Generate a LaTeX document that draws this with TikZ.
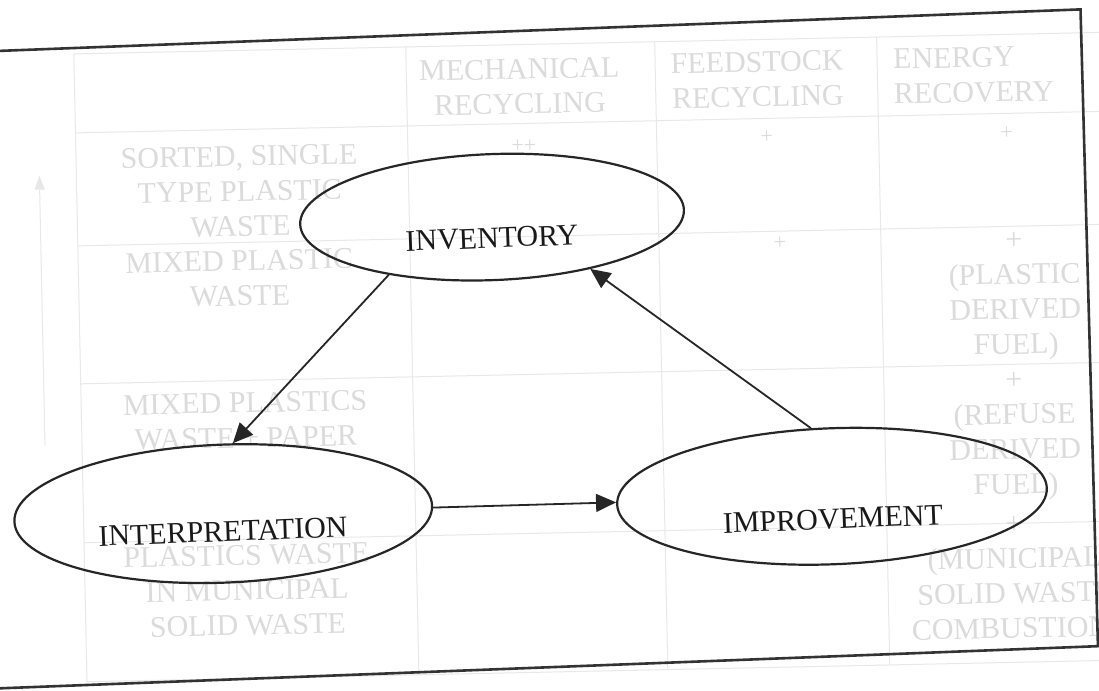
\documentclass[tikz,border=0pt]{standalone}
\usepackage{fontspec}
\setmainfont{Liberation Serif}
\usetikzlibrary{shapes.geometric,arrows.meta}

\begin{document}
\begin{tikzpicture}[x=1pt,y=-1pt,
  oval/.style={ellipse, draw=black!85, line width=2.2pt, inner sep=0pt},
  ovaltext/.style={font=\fontsize{30}{36}\selectfont, text=black!90, inner sep=0pt},
  flow/.style={line width=1.8pt, draw=black!85, -{Triangle[length=20pt,width=18pt]}},
  frameline/.style={line width=2.6pt, draw=black!80},
  ghostrule/.style={line width=1pt, draw=black!9},
  ghosttext/.style={font=\fontsize{30}{35}\selectfont, text=black!14, align=center, inner sep=0pt},
  ghostmark/.style={font=\fontsize{22}{26}\selectfont, text=black!14, inner sep=0pt},
]
\useasboundingbox (0,0) rectangle (1099,690);
\fill[white] (0,0) rectangle (1099,690);
\clip (0,0) rectangle (1099,690);

% faded table printed underneath the cycle
\begin{scope}[rotate around={1.2:(549.5,345)}, transform shape]
  \foreach \yy in {44,123,236,374,533,672}
    \draw[ghostrule] (80,\yy) -- (1160,\yy);
  \foreach \xx in {80,412,661,883}
    \draw[ghostrule] (\xx,44) -- (\xx,672);
  \coordinate (axisfoot) at (43,435);
  \coordinate (axishead) at (43,165);
  \draw[ghostrule, -{Triangle[length=14pt,width=10pt]}] (axisfoot) -- (axishead);

  \node[ghosttext] (hmech) at (525,86) {MECHANICAL\\RECYCLING};
  \node[ghosttext] (hfeed) at (763,84) {FEEDSTOCK\\RECYCLING};
  \node[ghosttext, align=left, anchor=west] (henergy) at (899,84) {ENERGY\\RECOVERY};

  \node[ghosttext] (rsorted) at (243,185) {SORTED, SINGLE\\TYPE PLASTIC\\WASTE};
  \node[ghosttext] (rmixed) at (241,272) {MIXED PLASTIC\\WASTE};
  \node[ghosttext] (rpaper) at (244,414) {MIXED PLASTICS\\WASTE + PAPER};
  \node[ghosttext] (rmsw) at (242,584) {PLASTICS WASTE\\IN MUNICIPAL\\SOLID WASTE};

  \node[ghosttext] (epdf) at (1016,306) {+\\(PLASTIC\\DERIVED\\FUEL)};
  \node[ghosttext] (erdf) at (1013,446) {+\\(REFUSE\\DERIVED\\FUEL)};
  \node[ghosttext] (emsw) at (1010,590) {+\\(MUNICIPAL\\SOLID WASTE\\COMBUSTION)};

  \node[ghostmark] (m11) at (528,146) {++};
  \node[ghostmark] (m12) at (771,142) {+};
  \node[ghostmark] (m13) at (1011,143) {+};
  \node[ghostmark] (m22) at (782,248) {+};
\end{scope}

% the assessment cycle
\begin{scope}[rotate around={2.2:(549.5,345)}, transform shape]
  \draw[frameline] (-80,30) -- (1093,30) -- (1086,667) -- (-80,667);

  \node[oval, minimum width=384pt, minimum height=126pt] (inv) at (497,215) {};
  \node[oval, minimum width=418pt, minimum height=138pt] (interp) at (217,501) {};
  \node[oval, minimum width=430pt, minimum height=136pt] (impr) at (826,507) {};

  \node[ovaltext] (invtxt) at (496,236) {INVENTORY};
  \node[ovaltext] (interptxt) at (216,519) {INTERPRETATION};
  \node[ovaltext] (imprtxt) at (826,530) {IMPROVEMENT};

  \draw[flow] (inv.207) -- (interp.80);
  \draw[flow] (interp) -- (impr);
  \draw[flow] (impr.105) -- (inv.330);
\end{scope}
\end{tikzpicture}
\end{document}
